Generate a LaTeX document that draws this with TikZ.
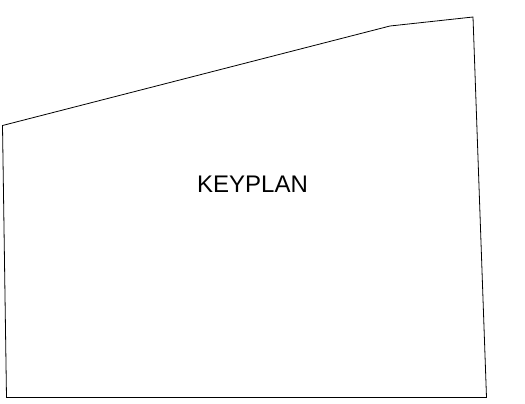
\documentclass[tikz,border=0pt]{standalone}
\usepackage{fontspec}
\setmainfont{Liberation Sans}
\begin{document}
\begin{tikzpicture}[x=1pt,y=-1pt,outline/.style={draw=black,line width=0.8pt,line join=miter}]
\useasboundingbox (0,0) rectangle (525,404);
\coordinate (tl) at (2.5,125.5);
\coordinate (kink) at (390,26);
\coordinate (tr) at (473,17);
\coordinate (br) at (486.5,397.5);
\coordinate (bl) at (6.5,397.5);
\draw[outline] (tl) -- (kink) -- (tr) -- (br) -- (bl) -- cycle;
\node[inner sep=0pt,anchor=base,font=\fontsize{24}{28}\selectfont] (label) at (252.5,192.3) {KEYPLAN};
\end{tikzpicture}
\end{document}
